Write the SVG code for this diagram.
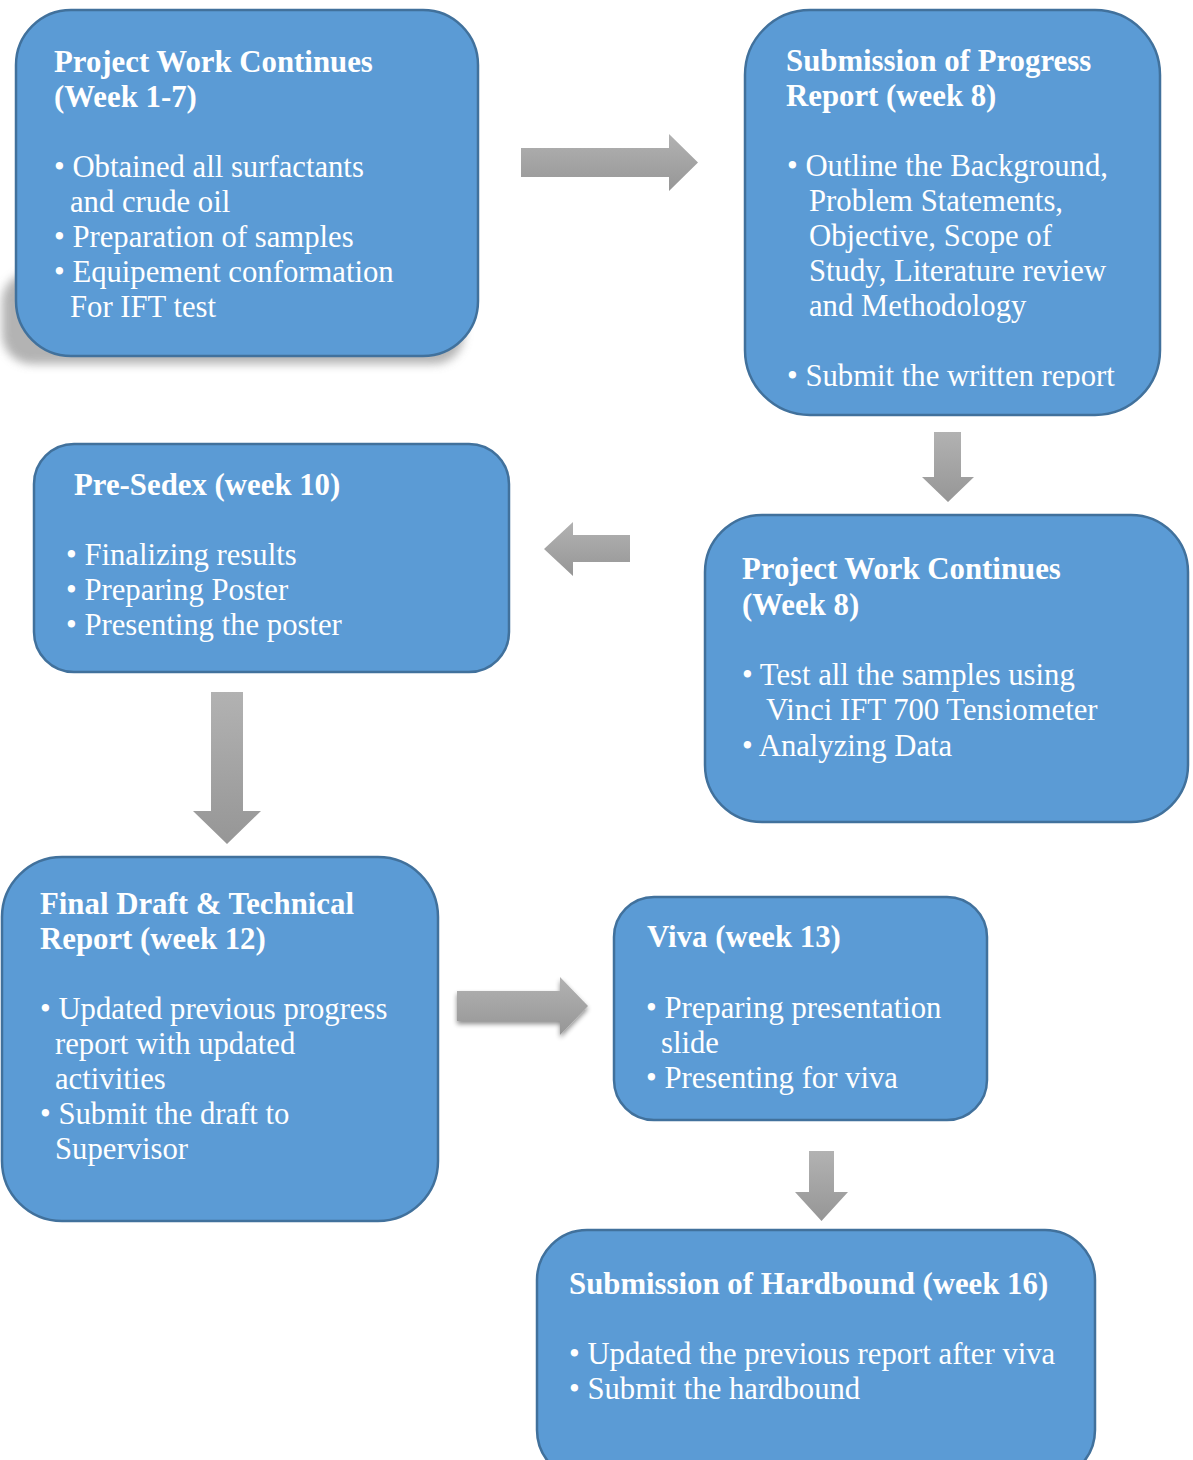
<svg xmlns="http://www.w3.org/2000/svg" width="1193" height="1460" viewBox="0 0 1193 1460">
<style>
.box{fill:#5B9BD5;stroke:#41719C;stroke-width:2.5}
.t{font-family:"Liberation Serif","Times New Roman",serif;font-size:30.8px;font-weight:bold;fill:#FFFFFF}
.b{font-family:"Liberation Serif","Times New Roman",serif;font-size:30.7px;fill:#FFFFFF}
.arr{fill:url(#ag)}
</style>
<defs>
<linearGradient id="ag" x1="0" y1="0" x2="0" y2="1">
<stop offset="0" stop-color="#B2B2B2"/>
<stop offset="1" stop-color="#969696"/>
</linearGradient>
<filter id="shb" x="-20%" y="-50%" width="140%" height="200%">
<feGaussianBlur stdDeviation="5"/>
</filter>
<filter id="ash" x="-20%" y="-40%" width="140%" height="180%">
<feGaussianBlur in="SourceGraphic" stdDeviation="0.7" result="s"/>
<feGaussianBlur in="SourceAlpha" stdDeviation="2.5" result="b"/>
<feOffset in="b" dx="0" dy="3" result="o"/>
<feComponentTransfer in="o" result="o2"><feFuncA type="linear" slope="0.45"/></feComponentTransfer>
<feMerge><feMergeNode in="o2"/><feMergeNode in="s"/></feMerge>
</filter>
<clipPath id="clip2"><rect x="745" y="340" width="415" height="48"/></clipPath>
</defs>

<g id="connectors">
<path class="arr" d="M521,148 H669 V134 L698,162.5 L669,191 V177 H521 Z"/>
<path class="arr" d="M934,432 H961 V477 H974 L948,502 L922,477 H934 Z"/>
<path class="arr" d="M630,535 H573 V522 L544,549 L573,576 V562 H630 Z"/>
<path class="arr" d="M211,692 H243 V811 H261 L227,844 L193,811 H211 Z"/>
<path class="arr" filter="url(#ash)" d="M457,991 H560 V977 L588,1006 L560,1035 V1021 H457 Z"/>
<path class="arr" d="M809,1151 H834 V1192 H848 L821.5,1221 L795,1192 H809 Z"/>
</g>

<g id="node1">
<rect x="2" y="272" width="462" height="92" rx="30" fill="#9A9A9A" opacity="0.75" filter="url(#shb)"/>
<rect class="box" x="16" y="10" width="462" height="346" rx="55"/>
<text class="t" x="54" y="72">Project Work Continues</text>
<text class="t" x="54" y="107">(Week 1-7)</text>
<text class="b" x="54" y="177">• Obtained all surfactants</text>
<text class="b" x="70" y="212">and crude oil</text>
<text class="b" x="54" y="247">• Preparation of samples</text>
<text class="b" x="54" y="282">• Equipement conformation</text>
<text class="b" x="70" y="317">For IFT test</text>
</g>

<g id="node2">
<rect class="box" x="745" y="10" width="415" height="405" rx="65"/>
<text class="t" x="786" y="71">Submission of Progress</text>
<text class="t" x="786" y="106">Report (week 8)</text>
<text class="b" x="787" y="176">• Outline the Background,</text>
<text class="b" x="809" y="211">Problem Statements,</text>
<text class="b" x="809" y="246">Objective, Scope of</text>
<text class="b" x="809" y="281">Study, Literature review</text>
<text class="b" x="809" y="316">and Methodology</text>
<text class="b" x="787" y="386" clip-path="url(#clip2)">• Submit the written report</text>
</g>

<g id="node3">
<rect class="box" x="34" y="444" width="475" height="228" rx="40"/>
<text class="t" x="74" y="495">Pre-Sedex (week 10)</text>
<text class="b" x="66" y="565">• Finalizing results</text>
<text class="b" x="66" y="600">• Preparing Poster</text>
<text class="b" x="66" y="635">• Presenting the poster</text>
</g>

<g id="node4">
<rect class="box" x="705" y="515" width="483" height="307" rx="57"/>
<text class="t" x="742" y="579">Project Work Continues</text>
<text class="t" x="742" y="615">(Week 8)</text>
<text class="b" x="742" y="685">• Test all the samples using</text>
<text class="b" x="766" y="720">Vinci IFT 700 Tensiometer</text>
<text class="b" x="742" y="756">• Analyzing Data</text>
</g>

<g id="node5">
<rect class="box" x="2" y="857" width="436" height="364" rx="60"/>
<text class="t" x="40" y="914">Final Draft &amp; Technical</text>
<text class="t" x="40" y="949">Report (week 12)</text>
<text class="b" x="40" y="1019">• Updated previous progress</text>
<text class="b" x="55" y="1054">report with updated</text>
<text class="b" x="55" y="1089">activities</text>
<text class="b" x="40" y="1124">• Submit the draft to</text>
<text class="b" x="55" y="1159">Supervisor</text>
</g>

<g id="node6">
<rect class="box" x="614" y="897" width="373" height="223" rx="40"/>
<text class="t" x="647" y="947">Viva (week 13)</text>
<text class="b" x="646" y="1018">• Preparing presentation</text>
<text class="b" x="661" y="1053">slide</text>
<text class="b" x="646" y="1088">• Presenting for viva</text>
</g>

<g id="node7">
<rect class="box" x="537" y="1230" width="558" height="250" rx="50"/>
<text class="t" x="569" y="1294">Submission of Hardbound (week 16)</text>
<text class="b" x="569" y="1364">• Updated the previous report after viva</text>
<text class="b" x="569" y="1399">• Submit the hardbound</text>
</g>
</svg>
